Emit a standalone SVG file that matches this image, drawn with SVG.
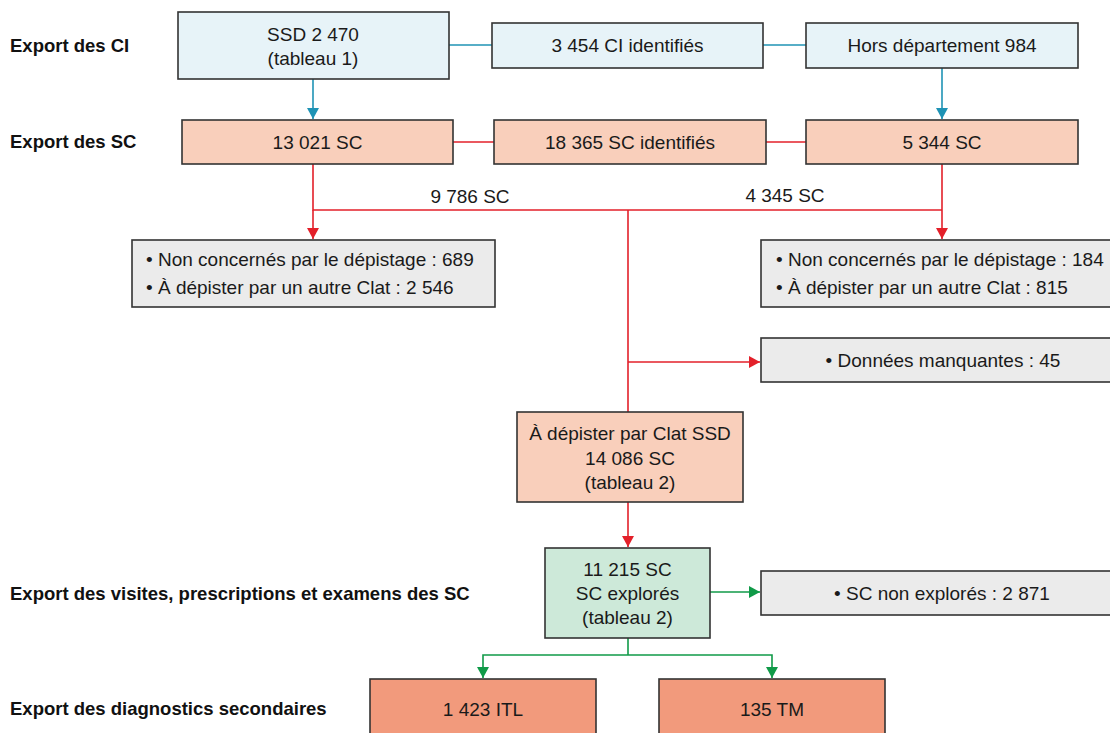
<svg xmlns="http://www.w3.org/2000/svg" width="1110" height="733" viewBox="0 0 1110 733">
  <style>
    text { font-family: "Liberation Sans", Arial, sans-serif; font-size: 19px; fill: #1a1a1a; }
    .c { text-anchor: middle; }
    .lbl { font-weight: bold; font-size: 18.5px; fill: #111; }
    .box { stroke: #333; stroke-width: 1.6; }
    .ci { fill: #e7f3f8; }
    .sc { fill: #f9cfbb; }
    .gr { fill: #ebebeb; }
    .gn { fill: #cde9d9; }
    .dg { fill: #f29a7c; }
    .lb { stroke: #1f93b5; stroke-width: 1.6; fill: none; }
    .lr { stroke: #e3202a; stroke-width: 1.6; fill: none; }
    .lg { stroke: #109a48; stroke-width: 1.6; fill: none; }
  </style>
  <defs>
    <marker id="ab" markerUnits="userSpaceOnUse" markerWidth="11" markerHeight="12" refX="11" refY="6" orient="auto" viewBox="0 0 11 12">
      <path d="M0,0 L11,6 L0,12 Z" fill="#1f93b5"/>
    </marker>
    <marker id="ar" markerUnits="userSpaceOnUse" markerWidth="11" markerHeight="12" refX="11" refY="6" orient="auto" viewBox="0 0 11 12">
      <path d="M0,0 L11,6 L0,12 Z" fill="#e3202a"/>
    </marker>
    <marker id="ag" markerUnits="userSpaceOnUse" markerWidth="11" markerHeight="12" refX="11" refY="6" orient="auto" viewBox="0 0 11 12">
      <path d="M0,0 L11,6 L0,12 Z" fill="#109a48"/>
    </marker>
  </defs>
  <rect width="1110" height="733" fill="#ffffff"/>

  <g id="labels">
    <text class="lbl" x="10" y="52">Export des CI</text>
    <text class="lbl" x="10" y="148">Export des SC</text>
    <text class="lbl" x="10" y="600">Export des visites, prescriptions et examens des SC</text>
    <text class="lbl" x="10" y="715">Export des diagnostics secondaires</text>
  </g>

  <g id="connectors">
    <line class="lb" x1="449" y1="45" x2="492" y2="45"/>
    <line class="lb" x1="763" y1="45" x2="806" y2="45"/>
    <line class="lb" x1="313" y1="79" x2="313" y2="119" marker-end="url(#ab)"/>
    <line class="lb" x1="942" y1="68" x2="942" y2="119" marker-end="url(#ab)"/>
    <line class="lr" x1="453" y1="142" x2="494" y2="142"/>
    <line class="lr" x1="766" y1="142" x2="806" y2="142"/>
    <polyline class="lr" points="313,164 313,210 942,210"/>
    <line class="lr" x1="942" y1="164" x2="942" y2="239" marker-end="url(#ar)"/>
    <line class="lr" x1="313" y1="210" x2="313" y2="239" marker-end="url(#ar)"/>
    <line class="lr" x1="628" y1="210" x2="628" y2="412"/>
    <line class="lr" x1="628" y1="362" x2="760" y2="362" marker-end="url(#ar)"/>
    <line class="lr" x1="628" y1="502" x2="628" y2="547" marker-end="url(#ar)"/>
    <line class="lg" x1="710" y1="592" x2="760" y2="592" marker-end="url(#ag)"/>
    <line class="lg" x1="628" y1="638" x2="628" y2="655"/>
    <polyline class="lg" points="628,655 483,655 483,678" marker-end="url(#ag)"/>
    <polyline class="lg" points="628,655 772,655 772,678" marker-end="url(#ag)"/>
  </g>

  <g id="n-ssd">
    <rect class="box ci" x="178" y="12" width="271" height="67"/>
    <text class="c" x="313" y="41">SSD 2 470</text>
    <text class="c" x="313" y="65">(tableau 1)</text>
  </g>
  <g id="n-ci">
    <rect class="box ci" x="492" y="23" width="271" height="45"/>
    <text class="c" x="627.5" y="52">3 454 CI identifiés</text>
  </g>
  <g id="n-hors">
    <rect class="box ci" x="806" y="23" width="272" height="45"/>
    <text class="c" x="942" y="52">Hors département 984</text>
  </g>

  <g id="n-sc1">
    <rect class="box sc" x="182" y="120" width="271" height="44"/>
    <text class="c" x="317.5" y="148.5">13 021 SC</text>
  </g>
  <g id="n-sc">
    <rect class="box sc" x="494" y="120" width="272" height="44"/>
    <text class="c" x="630" y="148.5">18 365 SC identifiés</text>
  </g>
  <g id="n-sc2">
    <rect class="box sc" x="806" y="120" width="272" height="44"/>
    <text class="c" x="942" y="148.5">5 344 SC</text>
  </g>

  <text class="c" x="470" y="203">9 786 SC</text>
  <text class="c" x="785" y="202">4 345 SC</text>

  <g id="n-left">
    <rect class="box gr" x="132" y="240" width="363" height="67"/>
    <text x="146" y="266">• Non concernés par le dépistage : 689</text>
    <text x="146" y="294">• À dépister par un autre Clat : 2 546</text>
  </g>
  <g id="n-right">
    <rect class="box gr" x="761" y="240" width="360" height="67"/>
    <text x="776" y="266">• Non concernés par le dépistage : 184</text>
    <text x="776" y="294">• À dépister par un autre Clat : 815</text>
  </g>
  <g id="n-manq">
    <rect class="box gr" x="761" y="338" width="360" height="44"/>
    <text class="c" x="943" y="367">• Données manquantes : 45</text>
  </g>

  <g id="n-clat">
    <rect class="box sc" x="517" y="412" width="226" height="90"/>
    <text class="c" x="630" y="440">À dépister par Clat SSD</text>
    <text class="c" x="630" y="465">14 086 SC</text>
    <text class="c" x="630" y="489">(tableau 2)</text>
  </g>

  <g id="n-expl">
    <rect class="box gn" x="545" y="548" width="165" height="90"/>
    <text class="c" x="627.5" y="576">11 215 SC</text>
    <text class="c" x="627.5" y="600">SC explorés</text>
    <text class="c" x="627.5" y="624">(tableau 2)</text>
  </g>
  <g id="n-nonexpl">
    <rect class="box gr" x="761" y="571" width="360" height="44"/>
    <text class="c" x="942" y="600">• SC non explorés : 2 871</text>
  </g>

  <g id="n-itl">
    <rect class="box dg" x="370" y="679" width="226" height="70"/>
    <text class="c" x="483" y="716">1 423 ITL</text>
  </g>
  <g id="n-tm">
    <rect class="box dg" x="659" y="679" width="226" height="70"/>
    <text class="c" x="772" y="716">135 TM</text>
  </g>
</svg>
